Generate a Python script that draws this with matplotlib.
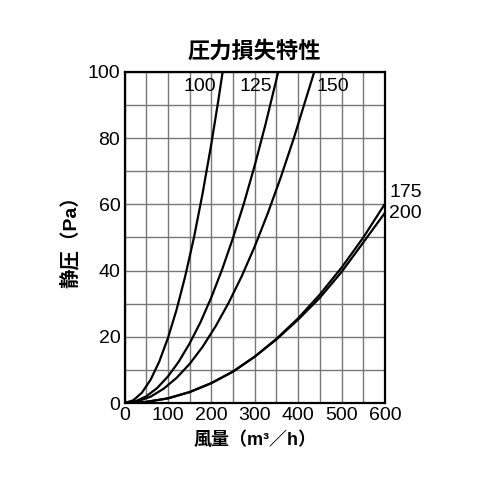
import matplotlib
matplotlib.use("Agg")
import matplotlib.pyplot as plt
import numpy as np

plt.rcParams['font.family'] = ['Liberation Sans', 'Noto Sans CJK JP', 'DejaVu Sans']

# values (flow m3/h, static pressure Pa)
q_100 = [0, 20, 40, 60, 80, 100, 120, 140, 160, 180, 200, 215, 226]
p_100 = [0, 0.8, 3.1, 7.0, 12.5, 19.6, 28.2, 38.4, 50.0, 63.4, 78.3, 90.5, 100]

q_125 = [0, 25, 50, 75, 100, 125, 150, 175, 200, 225, 250, 275, 300, 325, 354]
p_125 = [0, 0.5, 2.0, 4.5, 8.0, 12.5, 18.0, 24.4, 31.9, 40.4, 49.9, 60.3, 71.8, 84.3, 100]

q_150 = [0, 30, 60, 90, 120, 150, 180, 210, 240, 270, 300, 330, 360, 390, 420, 437]
p_150 = [0, 0.5, 1.9, 4.3, 7.6, 11.8, 17.0, 23.2, 30.3, 38.3, 47.3, 57.3, 68.2, 80.0, 92.8, 100]

q_175 = [0, 50, 100, 150, 200, 250, 300, 350, 400, 450, 500, 550, 600]
p_175 = [0, 0.33, 1.4, 3.3, 6.0, 9.5, 14.0, 19.4, 25.6, 32.8, 40.9, 50.0, 60.2]

q_200 = [0, 50, 100, 150, 200, 250, 300, 350, 400, 450, 500, 550, 600]
p_200 = [0, 0.33, 1.4, 3.3, 6.0, 9.5, 14.0, 19.2, 25.2, 31.8, 39.6, 48.5, 57.5]

x_ticks = [0, 100, 200, 300, 400, 500, 600]
y_ticks = [0, 20, 40, 60, 80, 100]

fig = plt.figure(figsize=(5, 5), dpi=100)
ax = fig.add_axes([0.249, 0.194, 0.521, 0.662])

ax.set_xlim(0, 600)
ax.set_ylim(0, 100)
ax.set_xticks(x_ticks)
ax.set_yticks(y_ticks)
ax.set_xticks(np.arange(0, 601, 50), minor=True)
ax.set_yticks(np.arange(0, 101, 10), minor=True)
ax.grid(which='both', color='#777777', linewidth=1.0)
ax.tick_params(which='both', length=0, labelsize=14, pad=3)
ax.set_axisbelow(True)
for s in ax.spines.values():
    s.set_linewidth(1.6)
    s.set_color('black')

for q, p in [(q_100, p_100), (q_125, p_125), (q_150, p_150), (q_175, p_175), (q_200, p_200)]:
    ax.plot(q, p, color='black', linewidth=1.6, solid_joinstyle='round')

ax.text(136, 95.5, '100', fontsize=14, ha='left', va='center')
ax.text(265, 95.5, '125', fontsize=14, ha='left', va='center')
ax.text(442, 95.5, '150', fontsize=14, ha='left', va='center')
ax.text(610, 63.7, '175', fontsize=14, ha='left', va='center', clip_on=False)
ax.text(610, 57.2, '200', fontsize=14, ha='left', va='center', clip_on=False)

ax.set_title('圧力損失特性', fontsize=16, fontweight='bold', pad=10)
ax.set_xlabel('風量（m³／h）', fontsize=13, fontweight='bold', labelpad=5)
ax.set_ylabel('静圧（Pa）', fontsize=14, fontweight='bold', labelpad=6)

fig.savefig('out.png', dpi=100)
